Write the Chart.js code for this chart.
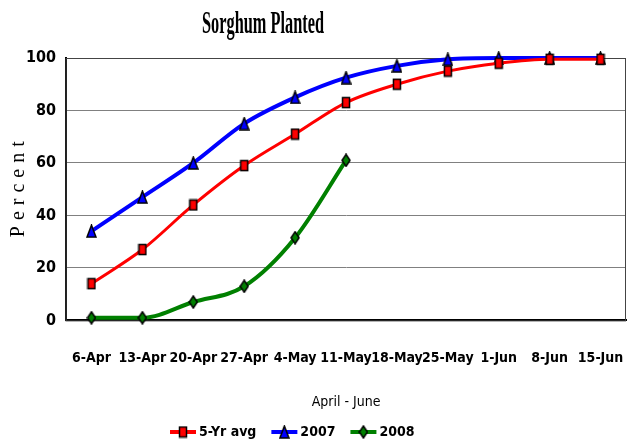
<!DOCTYPE html>
<html>
<head>
<meta charset="utf-8">
<script src="https://cdn.jsdelivr.net/npm/chart.js@4/dist/chart.umd.min.js"></script>
<style>
  html, body { margin: 0; padding: 0; background: #fff; }
  #wrap { width: 628px; height: 443px; }
</style>
</head>
<body>
<div id="wrap"><canvas id="chart" width="628" height="443"></canvas></div>
<script>
// data
const weeks = ['6-Apr', '13-Apr', '20-Apr', '27-Apr', '4-May', '11-May', '18-May', '25-May', '1-Jun', '8-Jun', '15-Jun'];
const fiveYrAvg = [14, 27, 44, 59, 71, 83, 90, 95, 98, 99.5, 99.5];
const y2007 = [34, 47, 60, 75, 85, 92.5, 97, 99.5, 100, 100, 100];
const y2008 = [1, 1, 7, 13, 31.5, 61, null, null, null, null, null];

const narrow = "'DejaVu Sans Condensed', 'Liberation Sans Narrow', Arial, sans-serif";

// marker pictures (tall shapes like the excel ones)
const makeMarker = (shape, fill, w, h) => {
    const c = document.createElement('canvas');
    c.width = w + 2;
    c.height = h + 2;
    const ctx = c.getContext('2d');
    ctx.fillStyle = fill;
    ctx.strokeStyle = '#000';
    ctx.lineWidth = 1.5;
    ctx.beginPath();
    if (shape === 'rect') {
        ctx.rect(1.5, 1.5, w - 1, h - 1);
    } else if (shape === 'tri') {
        ctx.moveTo(1 + w / 2, 1);
        ctx.lineTo(1 + w, 1 + h);
        ctx.lineTo(1, 1 + h);
        ctx.closePath();
    } else {
        ctx.moveTo(1 + w / 2, 1);
        ctx.lineTo(1 + w, 1 + h / 2);
        ctx.lineTo(1 + w / 2, 1 + h);
        ctx.lineTo(1, 1 + h / 2);
        ctx.closePath();
    }
    ctx.fill();
    ctx.stroke();
    return c;
};

const redMark = makeMarker('rect', '#ff0000', 8, 11);
const blueMark = makeMarker('tri', '#0000ff', 9, 12);
const greenMark = makeMarker('diamond', '#008000', 8, 12);

// frame, condensed title, spaced y title and the legend
const extrasPlugin = {
    id: 'extras',
    beforeDatasetsDraw(chart) {
        const { ctx, chartArea } = chart;
        ctx.save();
        ctx.strokeStyle = '#444';
        ctx.lineWidth = 1;
        ctx.strokeRect(chartArea.left, chartArea.top + 0.5, chartArea.right - chartArea.left - 0.5, chartArea.bottom - chartArea.top);
        ctx.restore();
    },
    afterDraw(chart) {
        const { ctx, chartArea } = chart;

        // title, squeezed like the original
        ctx.save();
        ctx.font = "bold 32px 'Liberation Serif', serif";
        const tw = ctx.measureText('Sorghum Planted').width;
        ctx.translate(263, 25);
        ctx.scale(122 / tw, 1);
        ctx.fillStyle = '#000';
        ctx.textAlign = 'center';
        ctx.textBaseline = 'middle';
        ctx.fillText('Sorghum Planted', 0, 0);
        ctx.restore();

        // y title
        ctx.save();
        ctx.translate(19, (chartArea.top + chartArea.bottom) / 2);
        ctx.rotate(-Math.PI / 2);
        ctx.font = "20px 'Liberation Serif', serif";
        ctx.letterSpacing = '6px';
        ctx.fillStyle = '#000';
        ctx.textAlign = 'center';
        ctx.textBaseline = 'middle';
        ctx.fillText('Percent', 3, 0);
        ctx.restore();

        // legend: line + marker + label
        ctx.save();
        ctx.font = "bold 14px " + narrow;
        ctx.textBaseline = 'middle';
        ctx.fillStyle = '#000';
        const ly = 432;
        let lx = 170;
        chart.data.datasets.forEach((ds) => {
            ctx.strokeStyle = ds.borderColor;
            ctx.lineWidth = 4;
            ctx.beginPath();
            ctx.moveTo(lx, ly);
            ctx.lineTo(lx + 26, ly);
            ctx.stroke();
            const m = ds.pointStyle;
            ctx.drawImage(m, lx + 13 - m.width / 2, ly - m.height / 2);
            ctx.fillText(ds.label, lx + 29, ly);
            lx += 29 + ctx.measureText(ds.label).width + 15;
        });
        ctx.restore();
    }
};

new Chart(document.getElementById('chart'), {
    type: 'line',
    data: {
        labels: weeks,
        datasets: [
            {
                label: '5-Yr avg',
                data: fiveYrAvg,
                borderColor: '#ff0000',
                borderWidth: 3,
                pointStyle: redMark,
                cubicInterpolationMode: 'monotone',
                clip: false
            },
            {
                label: '2007',
                data: y2007,
                borderColor: '#0000ff',
                borderWidth: 4,
                pointStyle: blueMark,
                cubicInterpolationMode: 'monotone',
                clip: false
            },
            {
                label: '2008',
                data: y2008,
                borderColor: '#008000',
                borderWidth: 4,
                pointStyle: greenMark,
                cubicInterpolationMode: 'monotone',
                clip: false
            }
        ]
    },
    options: {
        responsive: false,
        animation: false,
        layout: { autoPadding: false, padding: { left: 16, right: 2, top: 58, bottom: 32 } },
        plugins: {
            title: { display: false },
            legend: { display: false },
            tooltip: { enabled: false }
        },
        scales: {
            x: {
                offset: true,
                // labels fit inside their bands, no extra room needed on the right
                afterFit: (scale) => { scale.paddingRight = 0; },
                grid: { display: false },
                border: { color: '#000', width: 2 },
                ticks: {
                    color: '#000',
                    padding: 22,
                    maxRotation: 0,
                    autoSkip: false,
                    font: { family: narrow, size: 14, weight: 'bold' }
                },
                title: {
                    display: true,
                    text: 'April - June',
                    color: '#000',
                    font: { family: narrow, size: 14 },
                    padding: { top: 5, bottom: 0 }
                }
            },
            y: {
                min: 0,
                max: 100,
                ticks: {
                    stepSize: 20,
                    color: '#000',
                    padding: 10,
                    font: { family: narrow, size: 16, weight: 'bold' }
                },
                grid: { color: '#808080', drawTicks: false },
                border: { color: '#000', width: 2 }
            }
        }
    },
    plugins: [extrasPlugin]
});
</script>
</body>
</html>
